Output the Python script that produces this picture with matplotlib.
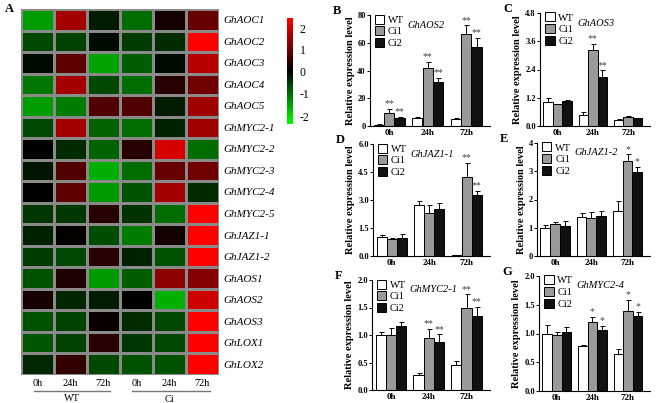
import numpy as np
import matplotlib
matplotlib.use("Agg")
import matplotlib.pyplot as plt
from matplotlib.colors import LinearSegmentedColormap, TwoSlopeNorm
from matplotlib.patches import Patch

plt.rcParams['font.family'] = ['Liberation Serif', 'DejaVu Serif']
plt.rcParams['axes.unicode_minus'] = False

# heatmap data (rows = genes, cols = WT 0/24/72h, Ci 0/24/72h)
genes = ['GhAOC1', 'GhAOC2', 'GhAOC3', 'GhAOC4', 'GhAOC5', 'GhMYC2-1', 'GhMYC2-2',
         'GhMYC2-3', 'GhMYC2-4', 'GhMYC2-5', 'GhJAZ1-1', 'GhJAZ1-2', 'GhAOS1',
         'GhAOS2', 'GhAOS3', 'GhLOX1', 'GhLOX2']
hm_cols = ['0h', '24h', '72h', '0h', '24h', '72h']
heat = np.array([
    [-1.45, 1.6, -0.25, -1.0, 0.2, 1.0],
    [-0.65, -0.6, -0.1, -0.55, -0.4, 2.5],
    [-0.1, 0.9, -1.5, -0.85, -0.1, 1.8],
    [-1.1, 1.6, -0.65, -1.0, 0.4, 1.1],
    [-1.45, -1.15, 0.8, 0.8, -0.25, 1.55],
    [-0.65, 1.6, -0.9, -1.0, -0.3, 1.55],
    [0.0, -0.4, -0.9, 0.4, 2.1, -1.0],
    [-0.2, 0.8, -1.6, -1.0, 1.0, 1.1],
    [0.0, 0.9, -1.4, -0.75, 1.6, -0.4],
    [-0.5, -0.5, 0.4, -0.45, -1.0, 2.5],
    [-0.3, 0.05, -0.7, -1.15, 0.2, 2.5],
    [-0.55, -0.65, 0.4, -0.3, -0.75, 2.5],
    [-0.75, 0.3, -1.4, -0.85, 1.4, 1.3],
    [0.2, -0.35, -0.25, 0.0, -1.6, 2.0],
    [-0.75, -0.6, 0.1, -0.4, -0.65, 2.5],
    [-0.8, -0.6, 0.4, -0.5, -0.65, 2.5],
    [-0.35, 0.5, -0.65, -0.75, -0.75, 2.5],
])

# bar chart data
times = ['0h', '24h', '72h']
series = ['WT', 'Ci1', 'Ci2']

aos2_mean = [[1.0, 5.5, 5.0], [9.5, 41.5, 66.5], [5.8, 31.5, 57.0]]
aos2_err = [[0.3, 1.2, 1.0], [3.0, 4.8, 6.0], [1.0, 3.0, 6.5]]
aos2_sig = [['', '', ''], ['**', '**', '**'], ['**', '**', '**']]

aos3_mean = [[1.0, 0.47, 0.26], [0.92, 3.24, 0.37], [1.07, 2.1, 0.33]]
aos3_err = [[0.2, 0.12, 0.03], [0.02, 0.25, 0.05], [0.03, 0.27, 0.02]]
aos3_sig = [['', '', ''], ['', '**', ''], ['', '**', '']]

jaz11_mean = [[1.0, 2.73, 0.08], [0.9, 2.3, 4.25], [0.95, 2.5, 3.25]]
jaz11_err = [[0.12, 0.22, 0.0], [0.06, 0.42, 0.75], [0.25, 0.35, 0.25]]
jaz11_sig = [['', '', ''], ['', '', '**'], ['', '', '**']]

jaz12_mean = [[1.0, 1.37, 1.6], [1.12, 1.35, 3.35], [1.07, 1.41, 2.98]]
jaz12_err = [[0.1, 0.16, 0.35], [0.07, 0.19, 0.25], [0.16, 0.18, 0.18]]
jaz12_sig = [['', '', ''], ['', '', '*'], ['', '', '*']]

myc21_mean = [[1.0, 0.28, 0.45], [1.0, 0.94, 1.5], [1.16, 0.87, 1.34]]
myc21_err = [[0.05, 0.03, 0.07], [0.12, 0.17, 0.24], [0.08, 0.14, 0.17]]
myc21_sig = [['', '', ''], ['', '**', '**'], ['', '**', '**']]

myc24_mean = [[1.0, 0.78, 0.65], [0.97, 1.2, 1.39], [1.03, 1.06, 1.3]]
myc24_err = [[0.14, 0.02, 0.08], [0.05, 0.09, 0.2], [0.09, 0.07, 0.08]]
myc24_sig = [['', '', ''], ['', '*', '*'], ['', '*', '*']]

W, H = 661, 403
fig = plt.figure(figsize=(W / 100, H / 100), dpi=100)


def px_axes(x0, y0, x1, y1):
    # pixel box (top-left origin) -> figure axes
    return fig.add_axes([x0 / W, 1 - y1 / H, (x1 - x0) / W, (y1 - y0) / H])


# ---- heatmap ----
ax = px_axes(21, 9, 219, 375)
cmap = LinearSegmentedColormap.from_list('gkr', ['#00ff00', '#000000', '#ff0000'])
norm = TwoSlopeNorm(vmin=-2.35, vcenter=0, vmax=2.5)
mesh = ax.pcolormesh(heat, cmap=cmap, norm=norm, edgecolors='#8a8a8a', linewidth=0.8)
ax.set_xlim(0, heat.shape[1])
ax.set_ylim(heat.shape[0], 0)
ax.set_yticks(np.arange(len(genes)) + 0.5)
ax.set_yticklabels(genes, fontsize=8, style='italic')
ax.yaxis.tick_right()
ax.set_xticks(np.arange(len(hm_cols)) + 0.5)
ax.set_xticklabels(hm_cols, fontsize=7.5)
ax.tick_params(length=0, pad=3)
for s in ax.spines.values():
    s.set_visible(False)
trans = ax.get_xaxis_transform()
ax.plot([0.4, 2.7], [-0.045, -0.045], color='#777777', lw=1, transform=trans, clip_on=False)
ax.plot([3.35, 5.72], [-0.045, -0.045], color='#777777', lw=1, transform=trans, clip_on=False)
ax.text(1.55, -0.052, 'WT', transform=trans, ha='center', va='top', fontsize=7.5)
ax.text(4.5, -0.056, 'Ci', transform=trans, ha='center', va='top', fontsize=7.5)
fig.text(5 / W, 1 - 9 / H, 'A', fontsize=9, fontweight='bold', va='center')

cax = px_axes(287, 18, 293, 124)
cb = fig.colorbar(mesh, cax=cax, ticks=[-2, -1, 0, 1, 2])
cb.outline.set_visible(False)
cax.tick_params(length=0, labelsize=8.5, pad=5)

# ---- bar charts ----
panels = [
    ('B', 'GhAOS2', (370, 15, 490, 126), aos2_mean, aos2_err, aos2_sig,
     [0, 20, 40, 60, 80], '%d'),
    ('C', 'GhAOS3', (540, 13, 650, 126), aos3_mean, aos3_err, aos3_sig,
     [0, 1.2, 2.4, 3.6, 4.8], '%.1f'),
    ('D', 'GhJAZ1-1', (373, 144, 490, 256), jaz11_mean, jaz11_err, jaz11_sig,
     [0, 1.5, 3.0, 4.5, 6.0], '%.1f'),
    ('E', 'GhJAZ1-2', (537, 143, 650, 256), jaz12_mean, jaz12_err, jaz12_sig,
     [0, 1, 2, 3, 4], '%d'),
    ('F', 'GhMYC2-1', (372, 280, 490, 390), myc21_mean, myc21_err, myc21_sig,
     [0, 0.5, 1.0, 1.5, 2.0], '%.1f'),
    ('G', 'GhMYC2-4', (539, 276, 650, 391), myc24_mean, myc24_err, myc24_sig,
     [0, 0.5, 1.0, 1.5, 2.0], '%.1f'),
]
fills = ['white', '#9a9a9a', '#111111']
bw = 0.27
x = np.arange(len(times))

for label, gene, box, means, errs, sigs, yt, fmt in panels:
    a = px_axes(*box)
    top = yt[-1]
    for i, (m, e, sg) in enumerate(zip(means, errs, sigs)):
        xs = x + (i - 1) * bw
        a.bar(xs, m, bw, color=fills[i], edgecolor='black', linewidth=0.7,
              yerr=[np.zeros(3), e], capsize=1.8,
              error_kw=dict(elinewidth=0.7, capthick=0.7, ecolor='black'),
              label=series[i])
        for xi, mi, ei, si in zip(xs, m, e, sg):
            if si:
                a.text(xi, mi + ei + top * 0.005, si, ha='center', va='bottom',
                       fontsize=7, color='#444444')
    a.set_xlim(-0.5, 2.62)
    a.set_ylim(0, top)
    a.set_yticks(yt)
    a.set_yticklabels([fmt % v for v in yt], fontsize=6, fontweight='bold')
    a.set_xticks(x)
    a.set_xticklabels(times, fontsize=6.5, fontweight='bold')
    a.tick_params(axis='x', length=0, pad=2)
    a.tick_params(axis='y', length=2, width=0.7, pad=1)
    a.spines['top'].set_visible(False)
    a.spines['right'].set_visible(False)
    a.spines['left'].set_linewidth(0.8)
    a.spines['bottom'].set_linewidth(0.8)
    a.set_ylabel('Relative expression level', fontsize=7.5, fontweight='bold', labelpad=2)
    fig.text((box[0] + 37) / W, 1 - (box[1] + 10) / H, gene, fontsize=7.5,
             style='italic', va='center')
    handles = [Patch(facecolor=f, edgecolor='black', linewidth=0.7) for f in fills]
    a.legend(handles, series, loc='upper left', bbox_to_anchor=(-0.01, 1.06),
             frameon=False, fontsize=7.5, handlelength=0.9, handleheight=0.95,
             handletextpad=0.35, labelspacing=0.15, borderaxespad=0.2)
    fig.text((box[0] - 37) / W, 1 - (box[1] - 4) / H, label, fontsize=9,
             fontweight='bold', va='center')

fig.savefig('out.png', dpi=100)
